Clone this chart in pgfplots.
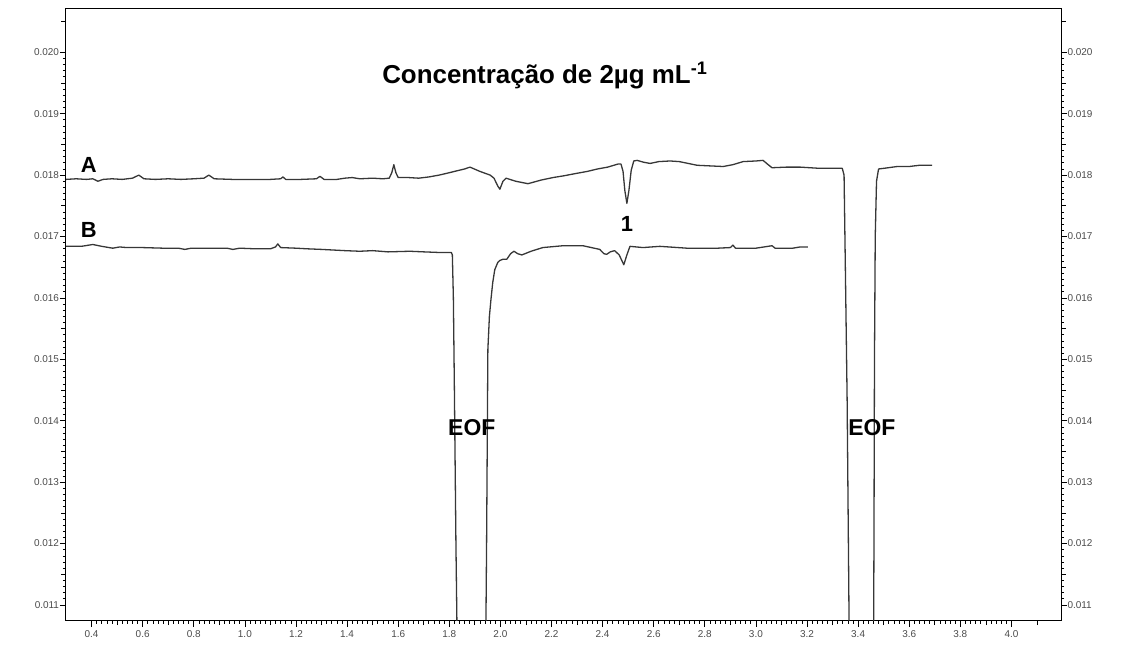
\documentclass[border=0pt]{standalone}
\usepackage{fontspec}
\setmainfont{Liberation Sans}
\usepackage{pgfplots}
\pgfplotsset{compat=1.18}
\definecolor{trace}{RGB}{55,55,55}
\definecolor{ticklab}{RGB}{75,75,75}

% electropherograms, absorbance in AU against migration time in minutes
\pgfplotstableread{
t        au
0.300    0.01793
0.340    0.01794
0.380    0.01793
0.405    0.01794
0.425    0.01790
0.445    0.01793
0.480    0.01794
0.520    0.01793
0.560    0.01795
0.585    0.01800
0.605    0.01794
0.650    0.01793
0.700    0.01794
0.750    0.01793
0.800    0.01794
0.840    0.01795
0.859    0.01800
0.880    0.01794
0.950    0.01793
1.020    0.01793
1.100    0.01793
1.140    0.01794
1.149    0.01797
1.160    0.01793
1.220    0.01793
1.280    0.01794
1.294    0.01798
1.310    0.01793
1.360    0.01793
1.391    0.01795
1.420    0.01796
1.450    0.01794
1.500    0.01795
1.540    0.01794
1.565    0.01795
1.575    0.01804
1.583    0.01817
1.591    0.01804
1.600    0.01796
1.640    0.01796
1.680    0.01795
1.720    0.01797
1.760    0.01800
1.791    0.01803
1.830    0.01807
1.860    0.01810
1.881    0.01813
1.920    0.01806
1.960    0.01800
1.975    0.01795
1.990    0.01782
1.998    0.01777
2.010    0.01790
2.022    0.01795
2.060    0.01790
2.108    0.01786
2.160    0.01792
2.206    0.01796
2.250    0.01799
2.300    0.01803
2.340    0.01806
2.380    0.01810
2.420    0.01813
2.460    0.01818
2.472    0.01818
2.480    0.01806
2.487    0.01775
2.495    0.01754
2.503    0.01775
2.512    0.01808
2.522    0.01823
2.535    0.01824
2.560    0.01821
2.586    0.01819
2.620    0.01822
2.664    0.01823
2.700    0.01822
2.770    0.01816
2.820    0.01815
2.872    0.01814
2.910    0.01817
2.950    0.01822
3.000    0.01823
3.028    0.01824
3.045    0.01818
3.063    0.01812
3.120    0.01813
3.173    0.01813
3.250    0.01811
3.338    0.01811
3.345    0.01800
3.350    0.01650
3.357    0.01434
3.363    0.01150
3.366    0.01000
3.460    0.01000
3.462    0.01200
3.464    0.01500
3.467    0.01700
3.472    0.01790
3.480    0.01810
3.500    0.01811
3.553    0.01814
3.600    0.01814
3.640    0.01816
3.690    0.01816
}\traceA

\pgfplotstableread{
t        au
0.300    0.01684
0.360    0.01684
0.405    0.01687
0.440    0.01684
0.483    0.01681
0.510    0.01683
0.538    0.01682
0.600    0.01682
0.680    0.01681
0.740    0.01681
0.765    0.01679
0.790    0.01681
0.860    0.01681
0.930    0.01681
0.953    0.01679
0.980    0.01681
1.040    0.01680
1.100    0.01680
1.120    0.01683
1.129    0.01688
1.140    0.01682
1.200    0.01681
1.243    0.01680
1.300    0.01679
1.391    0.01677
1.450    0.01676
1.500    0.01677
1.560    0.01675
1.646    0.01676
1.700    0.01675
1.760    0.01674
1.808    0.01674
1.812    0.01670
1.816    0.01600
1.820    0.01450
1.826    0.01200
1.832    0.01000
1.942    0.01000
1.946    0.01200
1.951    0.01516
1.957    0.01570
1.963    0.01597
1.970    0.01625
1.978    0.01646
1.990    0.01658
1.998    0.01661
2.010    0.01663
2.025    0.01663
2.040    0.01672
2.053    0.01676
2.068    0.01672
2.084    0.01670
2.120    0.01676
2.166    0.01682
2.245    0.01685
2.323    0.01685
2.389    0.01679
2.405    0.01672
2.416    0.01671
2.430    0.01675
2.447    0.01677
2.465    0.01670
2.483    0.01654
2.495    0.01670
2.507    0.01684
2.558    0.01682
2.624    0.01684
2.730    0.01681
2.850    0.01681
2.900    0.01682
2.910    0.01686
2.920    0.01681
3.000    0.01681
3.063    0.01685
3.075    0.01681
3.144    0.01681
3.173    0.01683
3.203    0.01683
}\traceB

\begin{document}
\begin{tikzpicture}
\pgfplotsset{
  cebase/.style={
    scale only axis, width=995bp, height=611.7bp,
    xmin=0.3, xmax=4.194, ymin=0.010744, ymax=0.020705,
    tick align=outside,
    major tick length=6bp, minor tick length=3bp,
    tick style={black, line width=0.7bp},
    scaled x ticks=false, scaled y ticks=false,
    /pgf/number format/assume math mode=true,
    ticklabel style={font=\fontsize{10}{11}\selectfont, text=ticklab},
    xticklabel style={/pgf/number format/fixed, /pgf/number format/fixed zerofill,
      /pgf/number format/precision=1},
    yticklabel style={/pgf/number format/fixed, /pgf/number format/fixed zerofill,
      /pgf/number format/precision=3},
    ytick={0.011,0.012,0.013,0.014,0.015,0.016,0.017,0.018,0.019,0.020},
    minor y tick num=9,
    extra y ticks={0.0105,0.0115,0.0125,0.0135,0.0145,0.0155,0.0165,0.0175,0.0185,0.0195,0.0205},
    extra y tick labels={},
    extra y tick style={major tick length=4.5bp},
  },
}
\begin{axis}[
  cebase, name=main,
  axis line style={black, line width=1bp},
  xtick pos=left, ytick pos=left,
  yticklabel style={xshift=2.5bp},
  xtick={0.4,0.6,0.8,1.0,1.2,1.4,1.6,1.8,2.0,2.2,2.4,2.6,2.8,3.0,3.2,3.4,3.6,3.8,4.0},
  minor x tick num=9,
  extra x ticks={0.5,0.7,0.9,1.1,1.3,1.5,1.7,1.9,2.1,2.3,2.5,2.7,2.9,3.1,3.3,3.5,3.7,3.9,4.1},
  extra x tick labels={},
  extra x tick style={major tick length=4.5bp},
]
\addplot[trace, line width=1.3bp, line join=round] table[x=t, y=au] {\traceA};
\addplot[trace, line width=1.3bp, line join=round] table[x=t, y=au] {\traceB};

\node[font=\fontsize{26}{30}\selectfont\bfseries] at (axis cs:2.174,0.01962)
  {Concentração de 2µg mL\textsuperscript{-1}};
\node[font=\fontsize{22}{26}\selectfont\bfseries] at (axis cs:0.389,0.01817) {A};
\node[font=\fontsize{22}{26}\selectfont\bfseries] at (axis cs:0.389,0.01711) {B};
\node[font=\fontsize{22}{26}\selectfont\bfseries] at (axis cs:2.495,0.01721) {1};
\node[font=\fontsize{23}{26}\selectfont\bfseries] at (axis cs:1.888,0.01389) {EOF};
\node[font=\fontsize{23}{26}\selectfont\bfseries] at (axis cs:3.454,0.01389) {EOF};

\node[rotate=90, font=\fontsize{7}{8}\selectfont] at ([xshift=-52bp]rel axis cs:0,0.513) {AU};
\node[rotate=90, font=\fontsize{7}{8}\selectfont] at ([xshift=52bp]rel axis cs:1,0.513) {AU};
\node[font=\fontsize{7}{8}\selectfont] at ([yshift=-27bp]rel axis cs:0.5,0) {Minutes};
\end{axis}
\begin{axis}[
  cebase,
  axis x line=none, axis y line*=right,
  axis line style={black, line width=1bp},
  yticklabel style={xshift=-3bp},
]
\end{axis}
\pgfresetboundingbox
\path ([xshift=-66bp,yshift=-34.3bp]main.south west) rectangle ([xshift=60bp,yshift=9bp]main.north east);
\end{tikzpicture}
\end{document}
